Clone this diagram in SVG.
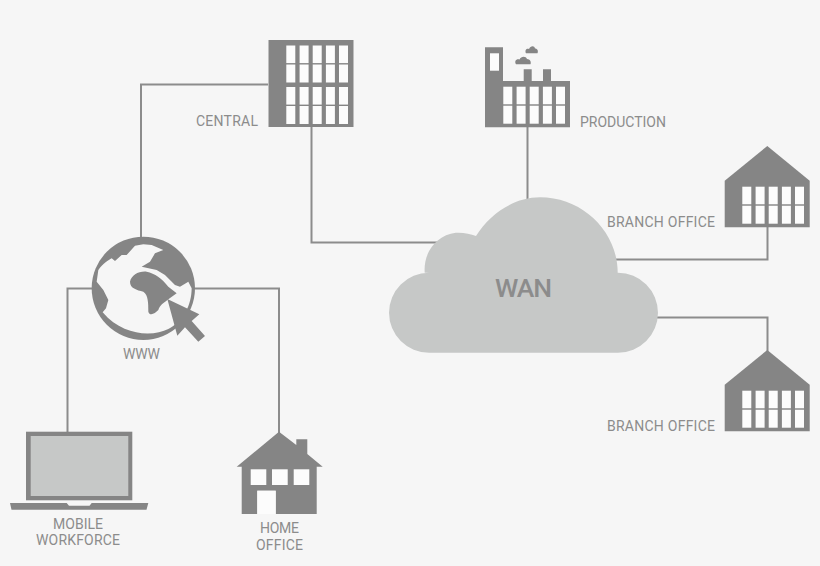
<svg xmlns="http://www.w3.org/2000/svg" width="820" height="566" viewBox="0 0 820 566">
<style>
.bg{fill:#f6f6f6}
.i{fill:#858585}
.w{fill:#fcfcfc}
.c{fill:#c6c8c7}
.l{fill:none;stroke:#8c8c8c;stroke-width:2}
text{font-family:"Roboto","Liberation Sans",sans-serif;font-size:14px;fill:#8c8c8c;text-anchor:start}
</style>
<defs>
<g id="win2" class="w">
<rect x="0" y="0" width="9" height="17.6"/><rect x="0" y="19" width="9" height="18"/>
<rect x="13.3" y="0" width="9" height="17.6"/><rect x="13.3" y="19" width="9" height="18"/>
<rect x="26.4" y="0" width="9" height="17.6"/><rect x="26.4" y="19" width="9" height="18"/>
<rect x="39.6" y="0" width="9" height="17.6"/><rect x="39.6" y="19" width="9" height="18"/>
<rect x="52.7" y="0" width="9" height="17.6"/><rect x="52.7" y="19" width="9" height="18"/>
</g>
<g id="branch">
<path class="i" d="M767.3 146L809.7 180.7V227.3H724.7V180.7Z"/>
<use href="#win2" x="742.3" y="186.7"/>
</g>
</defs>
<rect class="bg" width="820" height="566"/>
<g id="connectors">
<path class="l" d="M268 84.5H141V240"/>
<path class="l" d="M311.5 127V242.5H440"/>
<path class="l" d="M527.5 127V205"/>
<path class="l" d="M767.5 227V259.5H612"/>
<path class="l" d="M767.5 352V317.5H650"/>
<path class="l" d="M95 288.5H67.5V433"/>
<path class="l" d="M192 288.5H279V434"/>
</g>
<g id="central">
<rect class="i" x="268.5" y="40" width="85" height="87"/>
<use href="#win2" x="286.3" y="45.5"/>
<use href="#win2" x="286.3" y="87"/>
<text x="196" y="126" textLength="62">CENTRAL</text>
</g>
<g id="production">
<path class="i" d="M485 47.3H503V81H523.7V69.3H531.7V81H543V69.3H551V81H570V127.3H485Z"/>
<rect class="w" x="490" y="53.3" width="9" height="17.4"/>
<use href="#win2" x="503.3" y="86.7"/>
<path class="i" d="M516 64.3C514 61 516.5 58.5 519.5 59.5C521 56 526 56 527 59C530 59 531.5 62 530.5 64.3Z"/>
<path class="i" d="M526 53.3C524.5 50.5 526.5 48 529 49C530.5 45.5 534.5 45.5 535 48.5C537.5 48.5 538.5 51 537.5 53.3Z"/>
<text x="580" y="126.5" textLength="86">PRODUCTION</text>
</g>
<g id="branch-office-1">
<use href="#branch"/>
<text x="607" y="227" textLength="108">BRANCH OFFICE</text>
</g>
<g id="branch-office-2">
<use href="#branch" y="204"/>
<text x="607" y="431" textLength="108">BRANCH OFFICE</text>
</g>
<g id="wan">
<path class="c" d="M429 352.7A40 40 0 0 1 429 272.7H424.7C423 250 440 232.7 458.3 232.7C465 232.7 471 234 476 236C490 213 515 197.3 540 197.3C583 197.3 617.7 232 617.7 272.7H618A40 40 0 0 1 618 352.7Z"/>
<text x="495" y="296.7" textLength="57" style="font-size:26.5px;font-weight:500">WAN</text>
</g>
<g id="www">
<g transform="translate(80 225) scale(.3333)">
<circle class="i" cx="190" cy="190" r="155"/>
<path class="bg" d="M55 135C70 115 85 106 95 100L105 108L125 90L140 90L165 62L190 58L215 60L250 75L225 85L210 110L185 125L230 135L255 150L285 180L300 185L325 170L335 190C335 240 310 290 265 312C220 335 130 335 68 262L78 250L85 225L70 195L50 170Z"/>
<path class="i" d="M150 170C155 150 175 138 200 140C225 145 245 160 265 185L290 205L262 225C250 235 240 240 235 255C225 265 210 275 205 260C205 235 205 210 190 200C170 195 150 190 150 170Z"/>
<path class="i" d="M262 222L358 268L335 288L375 333L355 350L315 307L292 332Z"/>
</g>
<text x="123" y="359" textLength="37">WWW</text>
</g>
<g id="mobile-workforce">
<rect class="i" x="26" y="431.7" width="106.3" height="68.6"/>
<rect class="c" x="30.7" y="436" width="97.6" height="60"/>
<path class="i" d="M10 503H66.7L69 505.7H89.5L91.7 503H148.3L146.5 509.7H11.5Z"/>
<text x="53" y="529" textLength="50">MOBILE</text>
<text x="36" y="545" textLength="84">WORKFORCE</text>
</g>
<g id="home-office">
<path class="i" d="M279 431.7L296.3 445V439.3H307.3V454L322.7 466.7L316.7 466.7V514H275.7V490.7H257.3V514H241.7V466.7H236.7Z"/>
<rect class="w" x="250.7" y="469.3" width="15.6" height="15.7"/>
<rect class="w" x="272" y="469.3" width="15.7" height="15.7"/>
<rect class="w" x="293.7" y="469.3" width="15.6" height="15.7"/>
<rect class="w" x="257.3" y="490.7" width="18.4" height="23.3"/>
<text x="260" y="533" textLength="39">HOME</text>
<text x="256" y="550" textLength="47">OFFICE</text>
</g>
</svg>
